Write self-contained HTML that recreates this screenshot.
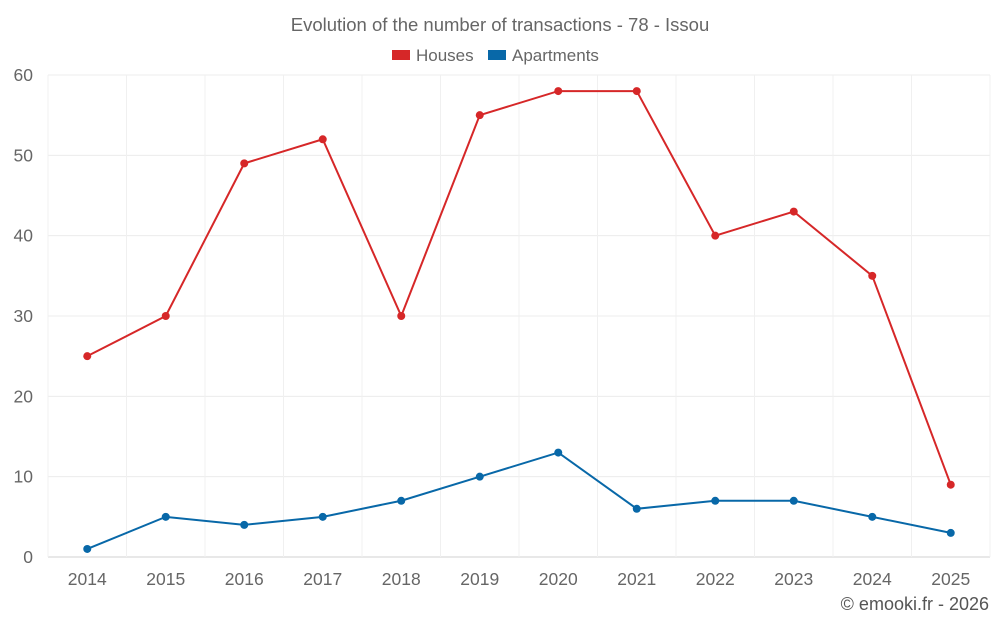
<!DOCTYPE html>
<html><head><meta charset="utf-8"><style>
body{margin:0;background:#fff;font-family:"Liberation Sans",sans-serif;}
svg text{font-family:"Liberation Sans",sans-serif;}
</style></head><body>
<svg id="chart" width="1000" height="625" xmlns="http://www.w3.org/2000/svg">
<text x="500" y="31" text-anchor="middle" font-size="18.5" fill="#666">Evolution of the number of transactions - 78 - Issou</text>
<g>
<g><rect x="392" y="50" width="18" height="10" fill="#d62728"/><text x="416" y="61" font-size="17" fill="#666">Houses</text></g>
<g><rect x="488" y="50" width="18" height="10" fill="#0868a8"/><text x="512" y="61" font-size="17" fill="#666">Apartments</text></g>
</g>
<g id="grid"></g><g id="axes"></g><g id="series"></g>
<text x="989" y="610" text-anchor="end" font-size="18" fill="#555">© emooki.fr - 2026</text>
</svg>
<script>
const years=["2014","2015","2016","2017","2018","2019","2020","2021","2022","2023","2024","2025"];
const houses=[25,30,49,52,30,55,58,58,40,43,35,9];
const apartments=[1,5,4,5,7,10,13,6,7,7,5,3];
const yTicks=[0,10,20,30,40,50,60];
const NS="http://www.w3.org/2000/svg";
const L=48,R=990,T=75,B=557,yMax=60;
const bw=(R-L)/years.length;
const x=i=>L+bw*(i+0.5);
const y=v=>B-(v/yMax)*(B-T);
function mk(tag,attrs,parent){const e=document.createElementNS(NS,tag);for(const k in attrs)e.setAttribute(k,attrs[k]);parent.appendChild(e);return e;}
const grid=document.getElementById('grid'),axes=document.getElementById('axes'),series=document.getElementById('series');
yTicks.forEach(t=>{
 const l=mk('line',{x1:L,x2:R,y1:y(t),y2:y(t),stroke:t===0?'#d0d0d0':'#ececec'},grid);
 
 
 const tx=mk('text',{x:L-15,y:y(t)+6,'text-anchor':'end','font-size':17.5,fill:'#666'},axes);tx.textContent=t;
 
 
});
for(let i=0;i<=years.length;i++){
 const l=mk('line',{x1:L+bw*i,x2:L+bw*i,y1:T,y2:B,stroke:'#f0f0f0'},grid);
 
 
}
years.forEach((yr,i)=>{
 const tx=mk('text',{x:x(i),y:585,'text-anchor':'middle','font-size':17.5,fill:'#666'},axes);tx.textContent=yr;
 
 
});
function draw(vals,color,name){
 const p=mk('polyline',{points:vals.map((v,i)=>x(i)+','+y(v)).join(' '),fill:'none',stroke:color,'stroke-width':2},series);
 
 
 vals.forEach((v,i)=>{
  const c=mk('circle',{cx:x(i),cy:y(v),r:4,fill:color},series);
  
  
 });
}
draw(houses,'#d62728','houses');
draw(apartments,'#0868a8','apartments');
</script>
</body></html>
